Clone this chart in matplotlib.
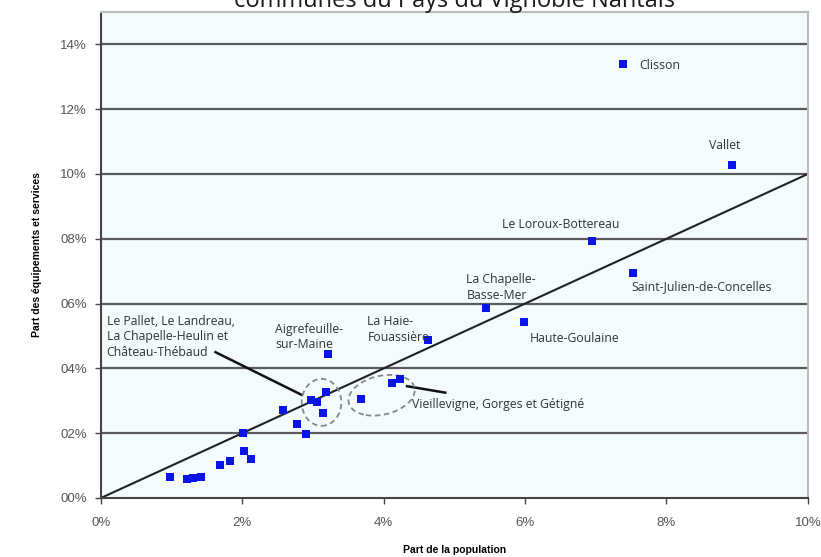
import matplotlib.pyplot as plt
from matplotlib.patches import Ellipse
import numpy as np

# part de la population (%) / part des equipements et services (%)
pop = [7.38, 8.93, 6.95, 7.52, 5.44, 5.99, 4.63, 3.21,
       3.18, 2.97, 3.06, 3.14, 2.57, 2.78, 2.90,
       3.68, 4.12, 4.23,
       2.01, 0.97, 1.21, 1.30, 1.41, 1.68, 1.83, 2.02, 2.12]
equip = [13.38, 10.29, 7.92, 6.95, 5.86, 5.43, 4.88, 4.43,
         3.27, 3.02, 2.96, 2.63, 2.71, 2.28, 1.98,
         3.05, 3.54, 3.66,
         2.02, 0.65, 0.60, 0.62, 0.64, 1.02, 1.14, 1.45, 1.20]

labels = [("Clisson", 7.62, 13.35, "left"),
          ("Vallet", 8.83, 10.88, "center"),
          ("Le Loroux-Bottereau", 6.5, 8.43, "center"),
          ("La Chapelle-\nBasse-Mer", 5.17, 6.5, "left"),
          ("Saint-Julien-de-Concelles", 7.5, 6.54, "left"),
          ("Haute-Goulaine", 6.06, 4.91, "left"),
          ("La Haie-\nFouassière", 3.77, 5.2, "left"),
          ("Aigrefeuille-\nsur-Maine", 2.46, 4.97, "left"),
          ("Le Pallet, Le Landreau,\nLa Chapelle-Heulin et\nChâteau-Thébaud", 0.08, 4.97, "left"),
          ("Vieillevigne, Gorges et Gétigné", 4.4, 2.87, "left")]

xticks = [0, 2, 4, 6, 8, 10]
yticks = [0, 2, 4, 6, 8, 10, 12, 14]
xtick_labels = ["0%", "2%", "4%", "6%", "8%", "10%"]
ytick_labels = ["00%", "02%", "04%", "06%", "08%", "10%", "12%", "14%"]

fig = plt.figure(figsize=(8.21, 5.57), dpi=100)
ax = fig.add_axes([0.123, 0.106, 0.861, 0.8725])
ax.set_facecolor('#f3fbfc')

for yv in yticks[1:]:
    ax.axhline(yv, color='#5a5a5a', lw=1.6, zorder=1)

ax.plot([0, 10], [0, 10], color='#222222', lw=1.5, zorder=2)
ax.scatter(pop, equip, marker='s', s=38, color='#0a14e6', zorder=4, linewidths=0)

for txt, x, y, ha in labels:
    ax.text(x, y, txt, ha=ha, va='center', fontsize=8.8, color='#333333',
            family='Open Sans', linespacing=1.25, zorder=5)

# callouts
ax.plot([1.62, 2.84], [4.5, 3.18], color='#111111', lw=1.8, zorder=3)
ax.plot([4.33, 4.87], [3.45, 3.25], color='#111111', lw=1.8, zorder=3)
ax.add_patch(Ellipse((3.12, 2.95), 0.56, 1.45, fill=False, ls=(0, (3, 2)),
                     ec='#888888', lw=1.3, zorder=3))
ax.add_patch(Ellipse((3.97, 3.17), 0.88, 1.3, angle=-20, fill=False, ls=(0, (3, 2)),
                     ec='#888888', lw=1.3, zorder=3))

ax.set_xlim(0, 10)
ax.set_ylim(0, 15)
ax.set_xticks(xticks)
ax.set_xticklabels(xtick_labels, fontsize=9.5, color='#555555', family='Liberation Sans')
ax.set_yticks(yticks)
ax.set_yticklabels(ytick_labels, fontsize=9.5, color='#555555', family='Liberation Sans')
ax.tick_params(length=4, width=1, color='#444444')
ax.tick_params(axis='x', pad=10)
ax.tick_params(axis='y', pad=6)

for side in ['left', 'bottom']:
    ax.spines[side].set_color('#444444')
    ax.spines[side].set_linewidth(1.5)
for side in ['right', 'top']:
    ax.spines[side].set_color('#bbbbbb')
    ax.spines[side].set_linewidth(1.5)

ax.set_xlabel("Part de la population", fontsize=7.5, fontweight='bold',
              family='Liberation Sans', labelpad=11)
ax.set_ylabel("Part des équipements et services", fontsize=7.5, fontweight='bold',
              family='Liberation Sans', labelpad=13)

fig.text(0.553, 1 - 7 / 557, "communes du Pays du Vignoble Nantais", ha='center',
         va='baseline', fontsize=17, family='Open Sans', color='#1a1a1a')

fig.savefig('out.png', dpi=100)
